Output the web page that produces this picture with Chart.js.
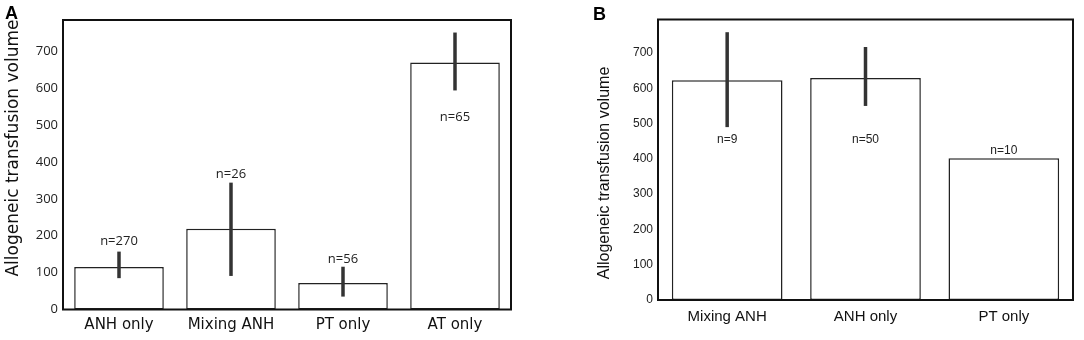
<!DOCTYPE html>
<html>
<head>
<meta charset="utf-8">
<script src="https://cdn.jsdelivr.net/npm/chart.js@4"></script>
<style>
  body { margin: 0; background: #fff; width: 1084px; height: 340px; position: relative; overflow: hidden; }
  .panel { position: absolute; top: 0; height: 340px; }
  #wrapA { left: 0; width: 540px; }
  #wrapB { left: 540px; width: 544px; }
  .tag { position: absolute; font: bold 18px "Liberation Sans", Arial, sans-serif; color: #000; }
</style>
</head>
<body>
<div class="panel" id="wrapA"><canvas id="chartA"></canvas></div>
<div class="panel" id="wrapB"><canvas id="chartB"></canvas></div>
<div class="tag" style="left:5px;top:3px">A</div>
<div class="tag" style="left:593px;top:4px">B</div>
<script>
// Panel A data
const catsA = ['ANH only', 'Mixing ANH', 'PT only', 'AT only'];
const meanA = [115, 219, 72, 670];
const lowA = [85, 91, 35, 594];
const highA = [157, 344, 116, 751];
const nA = ['n=270', 'n=26', 'n=56', 'n=65'];

// Panel B data
const catsB = ['Mixing ANH', 'ANH only', 'PT only'];
const meanB = [623, 629, 402];
const lowB = [490, 550, null];
const highB = [759, 717, null];
const nB = ['n=9', 'n=50', 'n=10'];

const yTickValues = [0, 100, 200, 300, 400, 500, 600, 700];
const yTitle = 'Allogeneic transfusion volume';

// error bars, n= labels, y title and the box frame
const extras = {
    id: 'extras',
    afterDatasetsDraw(chart, args, opts) {
        const ctx = chart.ctx;
        const y = chart.scales.y;
        const meta = chart.getDatasetMeta(0);
        const vals = chart.data.datasets[0].data;
        ctx.save();
        meta.data.forEach((bar, i) => {
            if (opts.high[i] != null) {
                ctx.strokeStyle = '#333';
                ctx.lineWidth = 3.5;
                ctx.beginPath();
                ctx.moveTo(bar.x, y.getPixelForValue(opts.low[i]));
                ctx.lineTo(bar.x, y.getPixelForValue(opts.high[i]));
                ctx.stroke();
            }
            let ref;
            if (opts.place[i] === 'below') ref = opts.low[i];
            else ref = opts.high[i] != null ? opts.high[i] : vals[i];
            ctx.fillStyle = '#222';
            ctx.font = opts.font;
            ctx.textAlign = 'center';
            ctx.textBaseline = 'middle';
            ctx.fillText(opts.labels[i], bar.x, y.getPixelForValue(ref) + opts.dy[i]);
        });

        // rotated axis title
        ctx.save();
        ctx.translate(opts.titleX, opts.titleY);
        ctx.rotate(-Math.PI / 2);
        ctx.fillStyle = '#111';
        ctx.font = opts.titleFont;
        ctx.textAlign = 'center';
        ctx.textBaseline = 'middle';
        ctx.fillText(yTitle, 0, 0);
        ctx.restore();

        const a = chart.chartArea;
        ctx.strokeStyle = '#111';
        ctx.lineWidth = 2;
        ctx.strokeRect(a.left, a.top, a.right - a.left, a.bottom - a.top);
        ctx.restore();
    }
};

function makeChart(id, cats, means, cfg) {
    return new Chart(document.getElementById(id), {
        type: 'bar',
        data: {
            labels: cats,
            datasets: [{
                data: means,
                backgroundColor: '#fff',
                borderColor: '#222',
                borderWidth: 1.5,
                borderSkipped: false,
                categoryPercentage: 1,
                barPercentage: 0.8
            }]
        },
        options: {
            responsive: true,
            maintainAspectRatio: false,
            animation: false,
            layout: { padding: cfg.padding },
            plugins: {
                legend: { display: false },
                tooltip: { enabled: false },
                extras: cfg.extras
            },
            scales: {
                x: {
                    grid: { display: false, drawTicks: false },
                    border: { display: false },
                    ticks: { color: '#111', font: { family: cfg.catFamily, size: cfg.catSize }, padding: cfg.catPad },
                    afterFit: s => { s.height = cfg.xHeight; }
                },
                y: {
                    min: 0,
                    max: cfg.yMax,
                    grid: { display: false, drawTicks: false },
                    border: { display: false },
                    afterBuildTicks: s => { s.ticks = yTickValues.map(v => ({ value: v })); },
                    ticks: { color: '#222', font: { family: cfg.tickFamily, size: cfg.tickSize }, padding: 5 },
                    afterFit: s => { s.width = cfg.yWidth; }
                }
            }
        },
        plugins: [extras]
    });
}

makeChart('chartA', catsA, meanA, {
    catFamily: '"DejaVu Sans", sans-serif',
    tickFamily: '"Open Sans", sans-serif',
    padding: { top: 20, right: 29, left: 0, bottom: 0 },
    yMax: 785, yWidth: 63, xHeight: 30.5,
    catSize: 15, catPad: 7, tickSize: 13,
    extras: {
        low: lowA, high: highA, labels: nA,
        place: ['above', 'above', 'above', 'below'],
        dy: [-10, -8, -7, 27],
        font: '13px "Open Sans", sans-serif',
        titleFont: '17px "DejaVu Sans", sans-serif',
        titleX: 14, titleY: 148
    }
});

makeChart('chartB', catsB, meanB, {
    catFamily: '"Liberation Sans", Arial, sans-serif',
    tickFamily: '"Liberation Sans", Arial, sans-serif',
    padding: { top: 19.5, right: 11, left: 0, bottom: 0 },
    yMax: 795, yWidth: 118, xHeight: 40,
    catSize: 15, catPad: 8, tickSize: 12,
    extras: {
        low: lowB, high: highB, labels: nB,
        place: ['below', 'below', 'above'],
        dy: [13, 34, -7],
        font: '12px "Liberation Sans", Arial, sans-serif',
        titleFont: '16px "Liberation Sans", Arial, sans-serif',
        titleX: 65, titleY: 173
    }
});
</script>
</body>
</html>
